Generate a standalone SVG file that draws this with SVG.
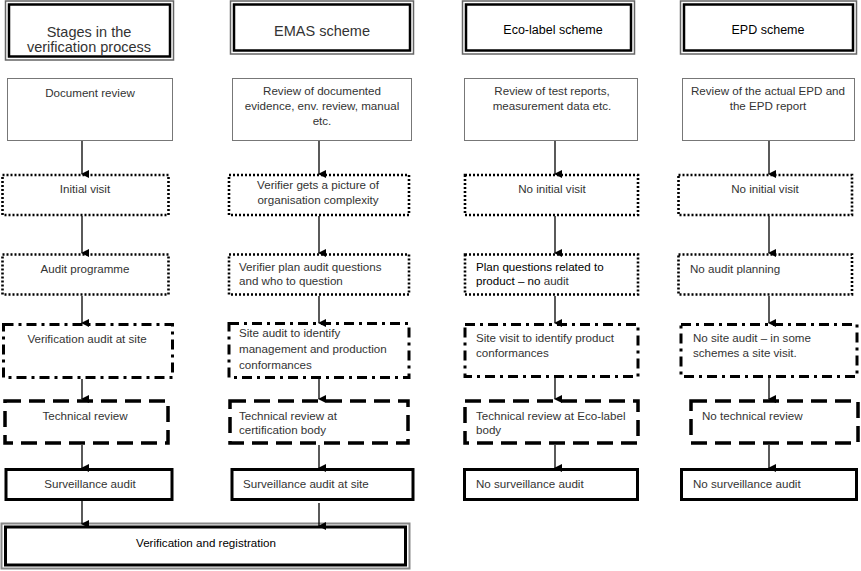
<svg xmlns="http://www.w3.org/2000/svg" width="861" height="571" viewBox="0 0 861 571">
<defs>
<marker id="arr" markerWidth="8" markerHeight="8" refX="4" refY="7" orient="auto" markerUnits="userSpaceOnUse" viewBox="0 0 8 8">
<path d="M0,0 L8,0 L4,8 Z" fill="#000"/>
</marker>
<style>
text{font-family:"Liberation Sans",Arial,sans-serif;font-size:11.6px;fill:#333}
.c{text-anchor:middle}
.h{font-size:14.5px}
.hb{font-size:12.5px;fill:#000}
.k{fill:#000}
.plain{fill:#fff;stroke:#777;stroke-width:1}
.dot{fill:#fff;stroke:#000;stroke-width:2.6;stroke-dasharray:2 2}
.dd{fill:#fff;stroke:#000;stroke-width:3;stroke-dasharray:10 5 3 5}
.dash{fill:#fff;stroke:#000;stroke-width:3.5;stroke-dasharray:16 8}
.solid{fill:#fff;stroke:#000;stroke-width:3}
.out{fill:#fff;stroke:#666;stroke-width:1.5}
.in{fill:none;stroke:#000;stroke-width:2.5}
.conn line{stroke:#000;stroke-width:1.3;marker-end:url(#arr)}
</style>
</defs>
<rect width="861" height="571" fill="#fff"/>

<g id="h1"><rect class="out" x="5.5" y="1" width="168" height="59"/><rect class="in" x="9" y="4.5" width="161" height="52"/><text class="c h" x="89" y="37">Stages in the</text><text class="c h" x="89" y="52">verification process</text></g>
<g id="h2"><rect class="out" x="230.5" y="1" width="183" height="53"/><rect class="in" x="234" y="4.5" width="176" height="46"/><text class="c h" x="322" y="36">EMAS scheme</text></g>
<g id="h3"><rect class="out" x="462.5" y="1" width="172" height="53"/><rect class="in" x="466" y="4.5" width="165" height="46"/><text class="c hb" x="553" y="34">Eco-label scheme</text></g>
<g id="h4"><rect class="out" x="680.5" y="1" width="176" height="53"/><rect class="in" x="684" y="4.5" width="169" height="46"/><text class="c hb" x="768" y="34">EPD scheme</text></g>

<g id="r1c1"><rect class="plain" x="7.5" y="78.5" width="165" height="62"/><text class="c" x="90" y="97">Document review</text></g>
<g id="r1c2"><rect class="plain" x="232.5" y="78.5" width="179" height="62"/><text class="c" x="322" y="95">Review of documented</text><text class="c" x="322" y="110">evidence, env. review, manual</text><text class="c" x="322" y="125">etc.</text></g>
<g id="r1c3"><rect class="plain" x="464.5" y="78.5" width="173" height="62"/><text class="c" x="552" y="95">Review of test reports,</text><text class="c" x="552" y="110">measurement data etc.</text></g>
<g id="r1c4"><rect class="plain" x="682.5" y="78.5" width="172" height="62"/><text class="c" x="768" y="95">Review of the actual EPD and</text><text class="c" x="768" y="110">the EPD report</text></g>

<g id="r2c1"><rect class="dot" x="2.5" y="175" width="166" height="40"/><text class="c" x="85" y="193">Initial visit</text></g>
<g id="r2c2"><rect class="dot" x="229" y="175" width="180" height="40"/><text class="c" x="318" y="189">Verifier gets a picture of</text><text class="c" x="318" y="204">organisation complexity</text></g>
<g id="r2c3"><rect class="dot" x="465" y="175" width="173" height="40"/><text class="c" x="552" y="193">No initial visit</text></g>
<g id="r2c4"><rect class="dot" x="678.5" y="175" width="173.5" height="40"/><text class="c" x="765" y="193">No initial visit</text></g>

<g id="r3c1"><rect class="dot" x="2.5" y="254.5" width="166" height="40"/><text class="c" x="85" y="273">Audit programme</text></g>
<g id="r3c2"><rect class="dot" x="229" y="254.5" width="180" height="40"/><text x="239" y="271">Verifier plan audit questions</text><text x="239" y="285">and who to question</text></g>
<g id="r3c3"><rect class="dot" x="465" y="254.5" width="173" height="40"/><text class="k" x="476" y="271">Plan questions related to</text><text x="476" y="285"><tspan class="k">product – no </tspan>audit</text></g>
<g id="r3c4"><rect class="dot" x="678.5" y="254.5" width="173.5" height="40"/><text x="690" y="273">No audit planning</text></g>

<g id="r4c1"><rect class="dd" x="3.5" y="324.5" width="169" height="53"/><text class="c" x="87" y="343">Verification audit at site</text></g>
<g id="r4c2"><rect class="dd" x="229" y="323.5" width="180" height="54"/><text x="239" y="337">Site audit to identify</text><text x="239" y="353">management and production</text><text x="239" y="369">conformances</text></g>
<g id="r4c3"><rect class="dd" x="465" y="324.5" width="173" height="52"/><text x="476" y="342">Site visit to identify product</text><text x="476" y="357">conformances</text></g>
<g id="r4c4"><rect class="dd" x="681" y="324.5" width="176" height="52"/><text x="693" y="342">No site audit – in some</text><text x="693" y="357">schemes a site visit.</text></g>

<g id="r5c1"><rect class="dash" x="5" y="401" width="163" height="42"/><text class="c" x="85" y="420">Technical review</text></g>
<g id="r5c2"><rect class="dash" x="230" y="401" width="178" height="42"/><text x="239" y="420">Technical review at</text><text x="239" y="434">certification body</text></g>
<g id="r5c3"><rect class="dash" x="465" y="401" width="173" height="42"/><text x="476" y="420">Technical review at Eco-label</text><text x="476" y="434">body</text></g>
<g id="r5c4"><rect class="dash" x="691" y="401" width="167" height="42"/><text x="702" y="420">No technical review</text></g>

<g id="r6c1"><rect class="solid" x="6" y="469.5" width="166" height="30"/><text class="c" x="90" y="488">Surveillance audit</text></g>
<g id="r6c2"><rect class="solid" x="232" y="469.5" width="181" height="30"/><text x="243" y="488">Surveillance audit at site</text></g>
<g id="r6c3"><rect class="solid" x="464.5" y="469.5" width="173" height="30"/><text x="476" y="488">No surveillance audit</text></g>
<g id="r6c4"><rect class="solid" x="681.5" y="469.5" width="175" height="30"/><text x="693" y="488">No surveillance audit</text></g>

<g id="final"><rect fill="#fff" stroke="#888" stroke-width="2" x="1.5" y="523.5" width="408" height="45"/><rect fill="none" stroke="#000" stroke-width="3" x="5.5" y="527" width="400" height="38"/><text class="c k" x="206" y="547">Verification and registration</text></g>

<g class="conn" id="connectors">
<line x1="82" y1="141" x2="82" y2="174"/>
<line x1="319" y1="141" x2="319" y2="174"/>
<line x1="555" y1="141" x2="555" y2="174"/>
<line x1="769" y1="141" x2="769" y2="174"/>
<line x1="82" y1="216" x2="82" y2="253"/>
<line x1="319" y1="216" x2="319" y2="253"/>
<line x1="555" y1="216" x2="555" y2="253"/>
<line x1="769" y1="216" x2="769" y2="253"/>
<line x1="82" y1="296" x2="82" y2="323"/>
<line x1="319" y1="296" x2="319" y2="323"/>
<line x1="555" y1="296" x2="555" y2="323"/>
<line x1="769" y1="296" x2="769" y2="323"/>
<line x1="82" y1="379" x2="82" y2="399"/>
<line x1="319" y1="379" x2="319" y2="399"/>
<line x1="555" y1="378" x2="555" y2="399"/>
<line x1="769" y1="378" x2="769" y2="399"/>
<line x1="82" y1="445" x2="82" y2="468"/>
<line x1="319" y1="445" x2="319" y2="468"/>
<line x1="555" y1="445" x2="555" y2="468"/>
<line x1="769" y1="445" x2="769" y2="468"/>
<line x1="82" y1="501" x2="82" y2="524"/>
<line x1="319" y1="503" x2="319" y2="526"/>
</g>
</svg>
